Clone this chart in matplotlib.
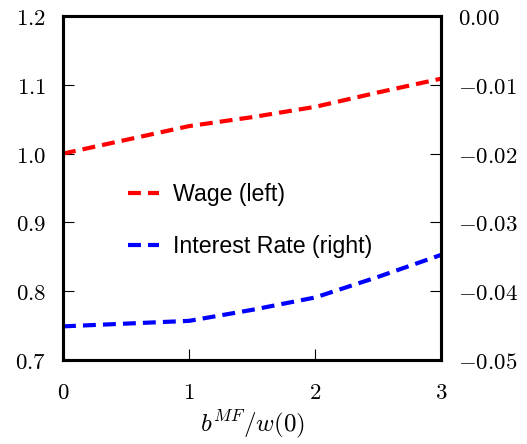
import numpy as np
import matplotlib.pyplot as plt

plt.rcParams['mathtext.fontset'] = 'cm'

# datos
b_ratio = np.array([0, 0.5, 1, 1.5, 2, 2.5, 3])
wage = np.array([1.00, 1.02, 1.04, 1.053, 1.068, 1.089, 1.109])
interest = np.array([-0.0451, -0.0447, -0.0443, -0.0427, -0.0409, -0.0379, -0.0347])

xticks = [0, 1, 2, 3]
yticks_left = [0.7, 0.8, 0.9, 1.0, 1.1, 1.2]
yticks_right = [-0.05, -0.04, -0.03, -0.02, -0.01, 0.00]

fig = plt.figure(figsize=(5.27, 4.44), dpi=100)
ax = fig.add_axes([0.1195, 0.189, 0.718, 0.775])
ax2 = ax.twinx()

estilo = (0, (3.1, 1.7))
l1, = ax.plot(b_ratio, wage, color='red', lw=3, ls=estilo, label='Wage (left)')
l2, = ax2.plot(b_ratio, interest, color='blue', lw=3, ls=estilo, label='Interest Rate (right)')

ax.set_xlim(0, 3)
ax.set_ylim(0.7, 1.2)
ax2.set_ylim(-0.05, 0.0)

ax.set_xticks(xticks)
ax.set_xticklabels([f'${v}$' for v in xticks])
ax.set_yticks(yticks_left)
ax.set_yticklabels([f'${v:.1f}$' for v in yticks_left])
ax2.set_yticks(yticks_right)
ax2.set_yticklabels([f'${v:.2f}$' for v in yticks_right])

for a in (ax, ax2):
    a.tick_params(direction='in', length=8, width=0.8, labelsize=16.5, pad=12)
    for s in a.spines.values():
        s.set_linewidth(2.2)
ax.tick_params(axis='x', top=False, pad=15)

ax.set_xlabel(r'$b^{MF}/w(0)$', fontsize=18, labelpad=3)

leg = ax.legend(handles=[l1, l2], loc='upper left', bbox_to_anchor=(0.117, 0.575),
                frameon=False, handlelength=1.35, handletextpad=0.6, labelspacing=1.25,
                prop={'family': 'Liberation Sans', 'size': 16.7})

fig.savefig('out.png', dpi=100)
